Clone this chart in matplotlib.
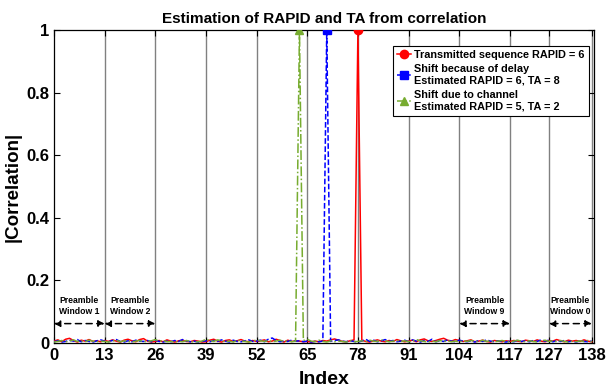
import matplotlib.pyplot as plt

# correlation magnitude at each index 0..138 (rows of 13 = one preamble window)
idx = list(range(139))

tx_corr = [
    0.006, 0.010, 0.004, 0.012, 0.015, 0.008, 0.003, 0.009, 0.006, 0.011, 0.005, 0.007, 0.004,
    0.008, 0.005, 0.010, 0.006, 0.003, 0.009, 0.012, 0.007, 0.004, 0.011, 0.014, 0.006, 0.003,
    0.005, 0.008, 0.004, 0.010, 0.006, 0.003, 0.007, 0.009, 0.005, 0.004, 0.008, 0.006, 0.003,
    0.004, 0.009, 0.012, 0.006, 0.003, 0.008, 0.010, 0.005, 0.007, 0.011, 0.006, 0.004, 0.008,
    0.005, 0.007, 0.010, 0.004, 0.006, 0.012, 0.008, 0.003, 0.009, 0.005, 0.007, 0.006, 0.004,
    0.005, 0.003, 0.006, 0.004, 0.008, 0.006, 0.010, 0.013, 0.009, 0.005, 0.004, 0.007, 0.010,
    1.000, 0.009, 0.005, 0.003, 0.007, 0.010, 0.006, 0.004, 0.008, 0.005, 0.011, 0.007, 0.004,
    0.006, 0.009, 0.004, 0.010, 0.013, 0.007, 0.005, 0.008, 0.012, 0.015, 0.009, 0.006, 0.011,
    0.008, 0.005, 0.007, 0.010, 0.004, 0.006, 0.009, 0.005, 0.003, 0.008, 0.006, 0.004, 0.007,
    0.005, 0.008, 0.006, 0.004, 0.009, 0.007, 0.005, 0.010, 0.006, 0.004, 0.008, 0.006, 0.011,
    0.007, 0.004, 0.009, 0.006, 0.008, 0.005, 0.010, 0.006, 0.004,
]

delay_corr = [
    0.004, 0.007, 0.003, 0.005, 0.009, 0.006, 0.011, 0.004, 0.008, 0.005, 0.003, 0.007, 0.010,
    0.006, 0.004, 0.008, 0.011, 0.005, 0.003, 0.007, 0.004, 0.009, 0.006, 0.005, 0.008, 0.004,
    0.009, 0.005, 0.003, 0.006, 0.004, 0.008, 0.005, 0.011, 0.007, 0.004, 0.006, 0.003, 0.005,
    0.007, 0.004, 0.008, 0.005, 0.010, 0.006, 0.003, 0.009, 0.005, 0.004, 0.007, 0.010, 0.005,
    0.006, 0.009, 0.004, 0.012, 0.016, 0.008, 0.004, 0.006, 0.005, 0.009, 0.006, 0.007, 0.004,
    0.006, 0.003, 0.005, 0.004, 0.006, 1.000, 0.005, 0.008, 0.010, 0.006, 0.004, 0.007, 0.005,
    0.003, 0.006, 0.012, 0.005, 0.009, 0.004, 0.007, 0.011, 0.005, 0.008, 0.004, 0.006, 0.009,
    0.004, 0.010, 0.006, 0.003, 0.008, 0.005, 0.012, 0.004, 0.007, 0.005, 0.010, 0.006, 0.004,
    0.009, 0.006, 0.004, 0.007, 0.003, 0.008, 0.005, 0.010, 0.006, 0.004, 0.007, 0.005, 0.003,
    0.006, 0.004, 0.009, 0.005, 0.007, 0.004, 0.008, 0.005, 0.010, 0.006, 0.009, 0.004, 0.007,
    0.005, 0.008, 0.004, 0.006, 0.003, 0.007, 0.005, 0.004, 0.006,
]

channel_corr = [
    0.003, 0.005, 0.008, 0.004, 0.006, 0.010, 0.005, 0.007, 0.004, 0.009, 0.006, 0.004, 0.006,
    0.005, 0.003, 0.006, 0.009, 0.004, 0.007, 0.005, 0.003, 0.006, 0.008, 0.004, 0.005, 0.007,
    0.011, 0.006, 0.008, 0.004, 0.005, 0.003, 0.006, 0.004, 0.008, 0.005, 0.003, 0.004, 0.006,
    0.012, 0.008, 0.005, 0.010, 0.007, 0.004, 0.006, 0.003, 0.009, 0.006, 0.005, 0.003, 0.006,
    0.010, 0.007, 0.005, 0.008, 0.004, 0.006, 0.009, 0.005, 0.007, 0.004, 0.006, 1.000, 0.008,
    0.012, 0.006, 0.004, 0.009, 0.005, 0.003, 0.007, 0.004, 0.006, 0.005, 0.003, 0.008, 0.004,
    0.005, 0.007, 0.004, 0.009, 0.006, 0.005, 0.010, 0.007, 0.004, 0.006, 0.008, 0.005, 0.007,
    0.004, 0.006, 0.011, 0.007, 0.005, 0.003, 0.006, 0.004, 0.008, 0.005, 0.007, 0.004, 0.006,
    0.004, 0.007, 0.005, 0.008, 0.006, 0.004, 0.009, 0.005, 0.007, 0.004, 0.006, 0.008, 0.005,
    0.003, 0.006, 0.009, 0.005, 0.004, 0.007, 0.005, 0.003, 0.006, 0.009, 0.005, 0.007, 0.004,
    0.008, 0.005, 0.003, 0.006, 0.004, 0.007, 0.005, 0.008, 0.004,
]

peaks = [78, 70, 63]
labels = [
    "Transmitted sequence RAPID = 6",
    "Shift because of delay\nEstimated RAPID = 6, TA = 8",
    "Shift due to channel\nEstimated RAPID = 5, TA = 2",
]
xticks = [0, 13, 26, 39, 52, 65, 78, 91, 104, 117, 127, 138]
windows = [(0, 13, "Window 1"), (13, 26, "Window 2"), (104, 117, "Window 9"), (127, 138, "Window 0")]

plt.rcParams['font.family'] = ['Liberation Sans', 'DejaVu Sans']
plt.rcParams['font.weight'] = 'bold'

fig = plt.figure(figsize=(6.06, 3.92), dpi=100)
ax = fig.add_axes([0.089, 0.125, 0.892, 0.798])

for xv in xticks[1:]:
    ax.axvline(xv, color=(0.5, 0.5, 0.5), lw=1.0, zorder=1)

green = (0.466, 0.674, 0.188)
ax.plot(idx, tx_corr, '-', color='red', lw=1.1, marker='o', markersize=6,
        markevery=[peaks[0]], label=labels[0], zorder=3)
ax.plot(idx, delay_corr, '--', color='blue', lw=1.1, marker='s', markersize=5.5,
        markevery=[peaks[1]], label=labels[1], zorder=3)
ax.plot(idx, channel_corr, '-.', color=green, lw=1.1, marker='^', markersize=6,
        markevery=[peaks[2]], label=labels[2], zorder=3)

for x0, x1, name in windows:
    ax.annotate("", xy=(x0, 0.062), xytext=(x1, 0.062),
                arrowprops=dict(arrowstyle='<|-|>', ls=(0, (4, 3)), lw=1.1,
                                color='black', mutation_scale=9, shrinkA=0, shrinkB=0))
    ax.text((x0 + x1) / 2, 0.118, "Preamble\n" + name, ha='center', va='center',
            fontsize=6.2, fontweight='bold', linespacing=1.4)

ax.set_xlim(0, 138.7)
ax.set_ylim(0, 1)
ax.set_xticks(xticks)
ax.set_yticks([0, 0.2, 0.4, 0.6, 0.8, 1])
ax.set_yticklabels(["0", "0.2", "0.4", "0.6", "0.8", "1"])
ax.tick_params(direction='in', top=True, right=True, labelsize=12, length=4, width=0.8)
for s in ax.spines.values():
    s.set_linewidth(0.9)

ax.set_title("Estimation of RAPID and TA from correlation", fontsize=11, fontweight='bold', pad=5)
ax.set_xlabel("Index", fontsize=14, fontweight='bold')
ax.set_ylabel("|Correlation|", fontsize=13.5, fontweight='bold')
ax.xaxis.set_label_coords(0.5, -0.09)
ax.yaxis.set_label_coords(-0.059, 0.5)

leg = ax.legend(loc='upper right', bbox_to_anchor=(0.99, 0.95), fontsize=7.8, handlelength=1.3,
                handletextpad=0.3, borderpad=0.4, labelspacing=0.38, fancybox=False,
                edgecolor='black', framealpha=1, borderaxespad=0)
leg.get_frame().set_linewidth(0.8)
for t in leg.get_texts():
    t.set_fontweight('bold')

fig.savefig("out.png", dpi=100)
